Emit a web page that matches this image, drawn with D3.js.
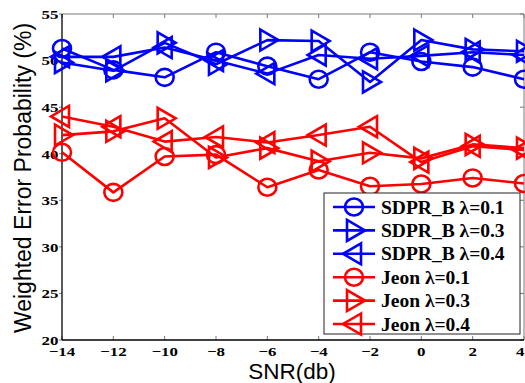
<!DOCTYPE html>
<html>
<head>
<meta charset="utf-8">
<script src="https://cdn.jsdelivr.net/npm/d3@7"></script>
<style>
  html, body { margin: 0; padding: 0; background: #fff; }
  svg { display: block; }
</style>
</head>
<body>
<div id="chart"></div>
<script>
"use strict";

// SNR values (x axis)
const snr = [-14, -12, -10, -8, -6, -4, -2, 0, 2, 4];

// Weighted error probability (%) per series
const sdprB01 = [51.3, 49.0, 48.2, 50.9, 49.4, 48.0, 50.9, 49.9, 49.3, 48.0];
const sdprB03 = [49.8, 48.9, 51.9, 49.6, 52.2, 52.1, 47.7, 52.2, 51.2, 51.0];
const sdprB04 = [50.4, 50.4, 51.4, 50.0, 48.6, 50.6, 50.2, 50.5, 50.9, 50.6];
const jeon01  = [40.15, 35.85, 39.7, 39.9, 36.4, 38.25, 36.5, 36.75, 37.4, 36.8];
const jeon03  = [42.0, 42.4, 43.8, 39.6, 40.6, 39.2, 40.1, 39.5, 41.0, 40.6];
const jeon04  = [44.0, 42.9, 41.3, 41.8, 41.2, 42.0, 42.9, 39.1, 40.8, 40.4];

const seriesNames  = ["SDPR_B λ=0.1", "SDPR_B λ=0.3", "SDPR_B λ=0.4",
                      "Jeon λ=0.1", "Jeon λ=0.3", "Jeon λ=0.4"];
const seriesValues = [sdprB01, sdprB03, sdprB04, jeon01, jeon03, jeon04];
const seriesColors = ["#0000ff", "#0000ff", "#0000ff", "#ff0000", "#ff0000", "#ff0000"];
const seriesMarks  = ["circle", "right", "left", "circle", "right", "left"];

const xTicks = [-14, -12, -10, -8, -6, -4, -2, 0, 2, 4];
const yTicks = [20, 25, 30, 35, 40, 45, 50, 55];

const W = 525, H = 383;
const padL = 62, padR = 524, padT = 14, padB = 340;

const x = d3.scaleLinear().domain([-14, 4]).range([padL, padR]);
const y = d3.scaleLinear().domain([20, 55]).range([padB, padT]);

const svg = d3.select("#chart").append("svg")
  .attr("width", W).attr("height", H);

const serif = "'Liberation Serif', 'Times New Roman', serif";
const sans = "'Liberation Sans', Arial, sans-serif";

// Box: top/right grey, left/bottom black
svg.append("line").attr("x1", padL).attr("x2", padR).attr("y1", padT).attr("y2", padT)
  .attr("stroke", "#7a7a7a").attr("stroke-width", 1);
svg.append("line").attr("x1", padR).attr("x2", padR).attr("y1", padT).attr("y2", padB)
  .attr("stroke", "#7a7a7a").attr("stroke-width", 1);

// Ticks (inward) on all sides
xTicks.forEach((t) => {
  svg.append("line").attr("x1", x(t)).attr("x2", x(t)).attr("y1", padT).attr("y2", padT + 4)
    .attr("stroke", "#7a7a7a");
  svg.append("line").attr("x1", x(t)).attr("x2", x(t)).attr("y1", padB).attr("y2", padB - 4)
    .attr("stroke", "#7a7a7a");
});
yTicks.forEach((t) => {
  svg.append("line").attr("x1", padL - 3).attr("x2", padL).attr("y1", y(t)).attr("y2", y(t))
    .attr("stroke", "#7a7a7a");
  svg.append("line").attr("x1", padR).attr("x2", padR - 4).attr("y1", y(t)).attr("y2", y(t))
    .attr("stroke", "#7a7a7a");
});

svg.append("line").attr("x1", padL).attr("x2", padL).attr("y1", padT).attr("y2", padB)
  .attr("stroke", "#000").attr("stroke-width", 1.3);
svg.append("line").attr("x1", padL).attr("x2", padR).attr("y1", padB).attr("y2", padB)
  .attr("stroke", "#000").attr("stroke-width", 1.3);

// Tick labels (bold serif, horizontally stretched like the source)
const sx = 1.3;
yTicks.forEach((t) => {
  svg.append("text")
    .attr("transform", `translate(58.5,${y(t) + 4.8}) scale(${sx},1)`)
    .attr("text-anchor", "end")
    .attr("font-family", serif).attr("font-weight", "bold").attr("font-size", 13)
    .attr("fill", "#000")
    .text(t);
});
xTicks.forEach((t, i) => {
  const last = i === xTicks.length - 1;
  svg.append("text")
    .attr("transform", `translate(${last ? W - 0.5 : x(t)},${padB + 15.5}) scale(${sx},1)`)
    .attr("text-anchor", last ? "end" : "middle")
    .attr("font-family", serif).attr("font-weight", "bold").attr("font-size", 13)
    .attr("fill", "#000")
    .text(t < 0 ? "\u2212" + Math.abs(t) : t);
});

// Axis titles
svg.append("text")
  .attr("x", 292).attr("y", 378.5)
  .attr("text-anchor", "middle")
  .attr("font-family", sans).attr("font-size", 22.5)
  .text("SNR(db)");
svg.append("text")
  .attr("transform", `translate(31,${(padT + padB) / 2 + 1}) rotate(-90)`)
  .attr("text-anchor", "middle")
  .attr("font-family", sans).attr("font-size", 23)
  .text("Weighted Error Probability (%)");

// Marker drawing
function drawMarker(g, kind, cx, cy, color) {
  if (kind === "circle") {
    g.append("ellipse").attr("cx", cx).attr("cy", cy).attr("rx", 9).attr("ry", 8.5)
      .attr("fill", "none").attr("stroke", color).attr("stroke-width", 2.6);
  } else {
    const d = kind === "right"
      ? `M${cx - 7},${cy - 10.5} L${cx + 11},${cy} L${cx - 7},${cy + 10.5} Z`
      : `M${cx + 7},${cy - 10.5} L${cx - 11},${cy} L${cx + 7},${cy + 10.5} Z`;
    g.append("path").attr("d", d)
      .attr("fill", "none").attr("stroke", color).attr("stroke-width", 2.6)
      .attr("stroke-linejoin", "miter");
  }
}

const plot = svg.append("g");
const line = d3.line().x((d) => x(d[0])).y((d) => y(d[1]));

seriesValues.forEach((vals, i) => {
  const pts = snr.map((s, j) => [s, vals[j]]);
  plot.append("path").datum(pts).attr("d", line)
    .attr("fill", "none").attr("stroke", seriesColors[i]).attr("stroke-width", 2.6)
    .attr("stroke-linejoin", "round");
  pts.forEach((p) => drawMarker(plot, seriesMarks[i], x(p[0]), y(p[1]), seriesColors[i]));
});

// Legend
const lg = svg.append("g");
lg.append("rect").attr("x", 324).attr("y", 193).attr("width", 196).attr("height", 141)
  .attr("fill", "#fff").attr("stroke", "#222").attr("stroke-width", 1);

seriesNames.forEach((name, i) => {
  const ly = 207 + i * 23.4;
  lg.append("line").attr("x1", 333).attr("x2", 375).attr("y1", ly).attr("y2", ly)
    .attr("stroke", seriesColors[i]).attr("stroke-width", 2.6);
  drawMarker(lg, seriesMarks[i], 354, ly, seriesColors[i]);
  lg.append("text")
    .attr("x", 381).attr("y", ly + 6.5)
    .attr("font-family", serif).attr("font-weight", "bold").attr("font-size", 19.5)
    .attr("fill", "#000")
    .text(name);
});
</script>
</body>
</html>
